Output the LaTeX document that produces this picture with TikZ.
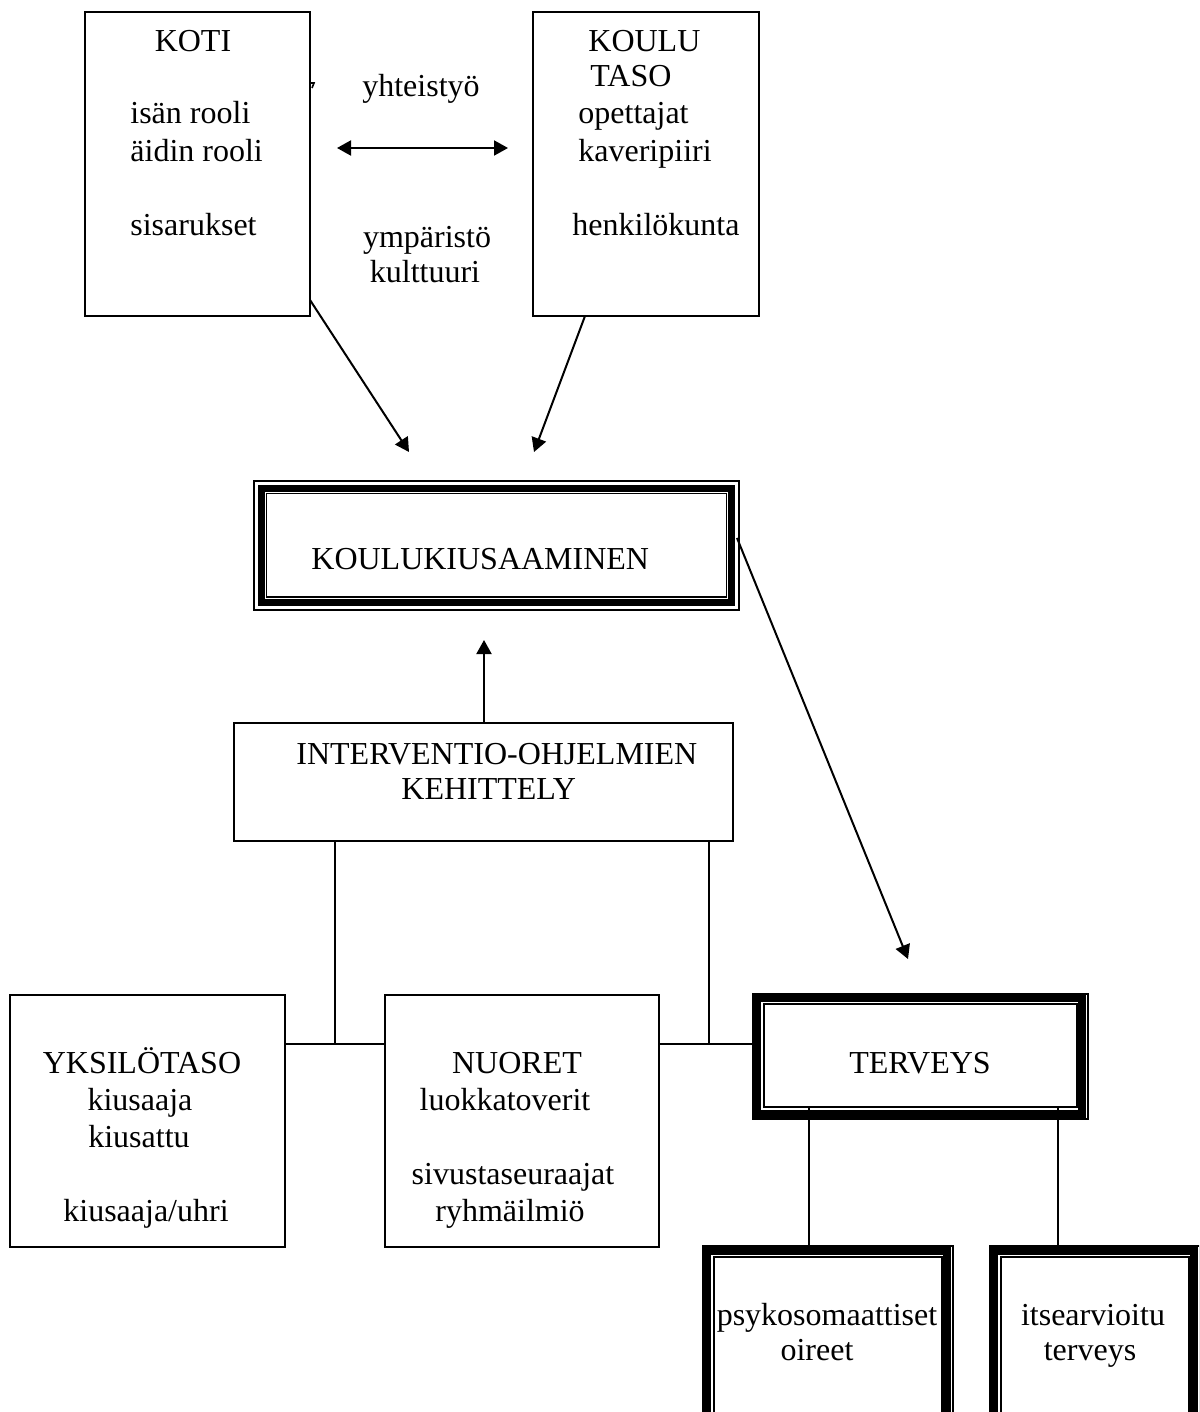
\documentclass[tikz,border=0pt]{standalone}
\usepackage{fontspec}
\setmainfont{Liberation Serif}
\usetikzlibrary{arrows.meta,fit,calc}
\begin{document}
\begin{tikzpicture}[x=0.5pt,y=-0.5pt,
  box/.style={draw, line width=1pt, inner sep=0pt, outer sep=0pt, fit={#1}},
  frame/.style={draw, line width=0.6pt, inner sep=0pt, outer sep=0pt, fit={#1}},
  thickline/.style={line width=4pt},
  thinline/.style={line width=0.6pt},
  arr/.style={line width=1pt, -{Triangle[length=7pt,width=7.5pt]}},
  darr/.style={line width=1pt, {Triangle[length=7pt,width=7.5pt]}-{Triangle[length=7pt,width=7.5pt]}},
  link/.style={line width=1pt},
  lbl/.style={inner sep=0pt, anchor=base west, font=\fontsize{16}{18.5}\selectfont},
  clbl/.style={inner sep=0pt, anchor=base, font=\fontsize{16}{18.5}\selectfont}]
\useasboundingbox (0,0) rectangle (1199,1412);
\clip (0,0) rectangle (1199,1412);

% KOTI
\node[box={(85,12) (310,316)}] (koti) {};
\node[clbl] (kotiT) at (193,52) {KOTI};
\node[lbl] (isa) at (130,124) {isän rooli};
\node[lbl] (aiti) at (130,162) {äidin rooli};
\node[lbl] (sis) at (130,235) {sisarukset};
\draw[line width=0.8pt] (310,83) -- (314,83) -- (312,88);

% KOULU
\node[box={(533,12) (759,316)}] (koulu) {};
\node[lbl] (kouluT) at (588,52) {KOULU};
\node[lbl] (taso) at (590,87) {TASO};
\node[lbl] (ope) at (578,124) {opettajat};
\node[lbl] (kav) at (578,162) {kaveripiiri};
\node[lbl] (hen) at (572,235) {henkilökunta};

% middle texts
\node[clbl] (yht) at (421,97) {yhteistyö};
\node[clbl] (ymp) at (427,248) {ympäristö};
\node[clbl] (kul) at (425,282) {kulttuuri};
\coordinate (da1) at (337,148);
\coordinate (da2) at (508,148);
\draw[darr] (da1) -- (da2);

% KOULUKIUSAAMINEN
\node[frame={(254,481) (739,610)}] (kk) {};
\draw[line width=3.5pt] ($(kk.north west)+(7.5,7.5)$) rectangle ($(kk.south east)+(-8,-8)$);
\draw[thinline] ($(kk.north west)+(12.5,12.5)$) rectangle ($(kk.south east)+(-12.5,-13)$);
\node[lbl] (kkT) at (311,569) {KOULUKIUSAAMINEN};

\coordinate (a1s) at (310,300);
\coordinate (a1e) at (409,452);
\draw[arr] (a1s) -- (a1e);
\coordinate (a2s) at (585,316);
\coordinate (a2e) at (534,452);
\draw[arr] (a2s) -- (a2e);
\coordinate (a3s) at (737,538);
\coordinate (a3e) at (908,959);
\draw[arr] (a3s) -- (a3e);

% INTERVENTIO
\node[box={(234,723) (733,841)}] (int) {};
\node[lbl] (int1) at (296,764) {INTERVENTIO-OHJELMIEN};
\node[lbl] (int2) at (401,799) {KEHITTELY};
\coordinate (up1) at (484,723);
\coordinate (up2) at (484,640);
\draw[arr] (up1) -- (up2);

% bottom level boxes
\node[box={(10,995) (285,1247)}] (yks) {};
\node[clbl] (yksT) at (142,1073) {YKSILÖTASO};
\node[clbl] (k1) at (140,1110) {kiusaaja};
\node[clbl] (k2) at (139,1147) {kiusattu};
\node[clbl] (k3) at (146,1221) {kiusaaja/uhri};

\node[box={(385,995) (659,1247)}] (nuo) {};
\node[clbl] (nuoT) at (517,1073) {NUORET};
\node[clbl] (n1) at (505,1110) {luokkatoverit};
\node[clbl] (n2) at (513,1184) {sivustaseuraajat};
\node[clbl] (n3) at (510,1221) {ryhmäilmiö};

% TERVEYS
\node[frame={(753,994) (1088,1119)}] (ter) {};
\draw[thickline] ($(ter.north west)+(4,4)$) rectangle ($(ter.south east)+(-6.5,-5.5)$);
\draw[thinline] ($(ter.north west)+(11,10)$) rectangle ($(ter.south east)+(-11,-12)$);
\node[clbl] (terT) at (920,1073) {TERVEYS};

% connectors from INTERVENTIO
\coordinate (j1) at (335,1044);
\coordinate (j2) at (709,1044);
\draw[link] (int.south -| j1) -- (j1);
\draw[link] (yks.east |- j1) -- (nuo.west |- j1);
\draw[link] (int.south -| j2) -- (j2);
\draw[link] (nuo.east |- j2) -- (ter.west |- j2);

% health sub boxes
\node[frame={(703,1246) (953,1500)}] (psy) {};
\draw[thickline] ($(psy.north west)+(4,4.5)$) rectangle ($(psy.south east)+(-6,-6)$);
\draw[thinline] ($(psy.north west)+(11,11)$) rectangle ($(psy.south east)+(-11,-12)$);
\node[clbl] (psyT) at (827,1325) {psykosomaattiset};
\node[clbl] (psyT2) at (817,1360) {oireet};

\node[frame={(990,1246) (1200,1500)}] (its) {};
\draw[thickline] ($(its.north west)+(4,4.5)$) rectangle ($(its.south east)+(-6,-6)$);
\draw[thinline] ($(its.north west)+(11,11)$) rectangle ($(its.south east)+(-11,-12)$);
\node[clbl] (itsT) at (1093,1325) {itsearvioitu};
\node[clbl] (itsT2) at (1090,1360) {terveys};

\coordinate (t1) at (809,1107);
\coordinate (t2) at (1058,1107);
\draw[link] (t1) -- (t1 |- psy.north);
\draw[link] (t2) -- (t2 |- its.north);
\end{tikzpicture}
\end{document}
